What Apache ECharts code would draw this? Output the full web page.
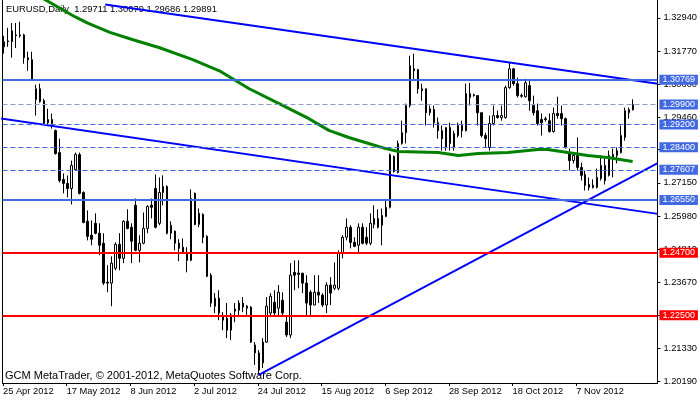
<!DOCTYPE html>
<html><head><meta charset="utf-8">
<script src="https://cdn.jsdelivr.net/npm/echarts@6/dist/echarts.min.js"></script>
<style>html,body{margin:0;padding:0;background:#fff}#c{width:700px;height:402px}</style>
</head><body><div id="c"></div>
<script>
const titleText = 'EURUSD,Daily  1.29711 1.30079 1.29686 1.29891';
const footerText = 'GCM MetaTrader, \u00a9 2001-2012, MetaQuotes Software Corp.';

const opens = [1.3192,1.3213,1.3210,1.3231,1.3234,1.3234,1.3154,1.3147,1.3007,1.3045,
1.3003,1.2926,1.2937,1.2898,1.2821,1.2727,1.2713,1.2695,1.2762,1.2814,
1.2681,1.2580,1.2531,1.2573,1.2538,1.2503,1.2366,1.2363,1.2415,1.2499,
1.2450,1.2580,1.2559,1.2636,1.2478,1.2503,1.2555,1.2636,1.2695,1.2573,
1.2681,1.2702,1.2538,1.2545,1.2503,1.2489,1.2471,1.2443,1.2678,1.2569,
1.2604,1.2527,1.2391,1.2282,1.2310,1.2244,1.2240,1.2198,1.2272,1.2268,
1.2279,1.2282,1.2279,1.2146,1.2118,1.2083,1.2156,1.2258,1.2296,1.2275,
1.2303,1.2226,1.2181,1.2401,1.2398,1.2398,1.2363,1.2331,1.2286,1.2331,
1.2321,1.2286,1.2356,1.2345,1.2345,1.2468,1.2524,1.2559,1.2506,1.2496,
1.2559,1.2524,1.2503,1.2569,1.2590,1.2566,1.2597,1.2629,1.2807,1.2751,
1.2853,1.2891,1.2986,1.3115,1.3112,1.3045,1.3045,1.2961,1.2972,1.2926,
1.2898,1.2839,1.2909,1.2839,1.2881,1.2916,1.2898,1.3014,1.3024,1.3021,
1.2961,1.2881,1.2839,1.2923,1.2951,1.2944,1.2944,1.3049,1.3115,1.3063,
1.3021,1.3017,1.3056,1.2986,1.2968,1.2937,1.2940,1.2933,1.2895,1.2958,
1.2958,1.2940,1.2818,1.2793,1.2811,1.2769,1.2744,1.2709,1.2706,1.2699,
1.2730,1.2776,1.2741,1.2814,1.2811,1.2821,1.2874,1.2961,1.29711];

const closes = [1.3210,1.3210,1.3248,1.3234,1.3231,1.3154,1.3147,1.3077,1.3045,1.3000,
1.2923,1.2937,1.2923,1.2818,1.2723,1.2713,1.2695,1.2776,1.2814,1.2678,
1.2576,1.2527,1.2517,1.2538,1.2496,1.2363,1.2363,1.2433,1.2499,1.2450,
1.2580,1.2555,1.2510,1.2478,1.2503,1.2555,1.2632,1.2629,1.2559,1.2681,
1.2702,1.2538,1.2566,1.2503,1.2485,1.2471,1.2443,1.2660,1.2569,1.2608,
1.2524,1.2387,1.2293,1.2310,1.2258,1.2233,1.2198,1.2251,1.2265,1.2293,
1.2293,1.2275,1.2156,1.2118,1.2058,1.2156,1.2282,1.2317,1.2258,1.2331,
1.2258,1.2181,1.2391,1.2391,1.2394,1.2363,1.2293,1.2286,1.2331,1.2321,
1.2286,1.2356,1.2328,1.2356,1.2468,1.2524,1.2559,1.2506,1.2492,1.2559,
1.2503,1.2503,1.2573,1.2590,1.2559,1.2601,1.2629,1.2814,1.2755,1.2853,
1.2891,1.2986,1.3126,1.3108,1.3045,1.3038,1.2961,1.2975,1.2926,1.2898,
1.2870,1.2909,1.2853,1.2888,1.2916,1.2898,1.3028,1.3028,1.3021,1.2961,
1.2881,1.2870,1.2923,1.2951,1.2944,1.2951,1.3049,1.3115,1.3063,1.3021,
1.3019,1.3066,1.3003,1.2961,1.2923,1.2926,1.2937,1.2895,1.2958,1.2951,
1.2940,1.2839,1.2793,1.2811,1.2769,1.2741,1.2706,1.2699,1.2699,1.2734,
1.2776,1.2723,1.2811,1.2804,1.2828,1.2881,1.2968,1.2972,1.29891];

const highs = [1.3231,1.3259,1.3276,1.3276,1.3280,1.3238,1.3175,1.3175,1.3059,1.3063,
1.3010,1.2975,1.2958,1.2902,1.2870,1.2748,1.2741,1.2793,1.2821,1.2821,
1.2685,1.2618,1.2583,1.2608,1.2573,1.2538,1.2426,1.2457,1.2506,1.2538,
1.2583,1.2622,1.2573,1.2660,1.2531,1.2611,1.2636,1.2660,1.2744,1.2734,
1.2741,1.2706,1.2580,1.2548,1.2517,1.2520,1.2489,1.2692,1.2681,1.2625,
1.2608,1.2531,1.2398,1.2328,1.2338,1.2261,1.2293,1.2258,1.2293,1.2303,
1.2314,1.2286,1.2282,1.2156,1.2128,1.2170,1.2314,1.2328,1.2338,1.2356,
1.2331,1.2251,1.2433,1.2443,1.2443,1.2398,1.2391,1.2338,1.2391,1.2391,
1.2328,1.2366,1.2384,1.2436,1.2478,1.2531,1.2590,1.2566,1.2524,1.2573,
1.2573,1.2559,1.2608,1.2636,1.2622,1.2625,1.2653,1.2818,1.2811,1.2863,
1.2933,1.2993,1.3161,1.3168,1.3115,1.3063,1.3045,1.2986,1.2986,1.2944,
1.2916,1.2909,1.2926,1.2898,1.2926,1.2933,1.3063,1.3066,1.3028,1.3021,
1.2961,1.2891,1.2951,1.2986,1.2968,1.2986,1.3056,1.3136,1.3118,1.3084,
1.3028,1.3080,1.3073,1.3021,1.2993,1.2958,1.2947,1.2958,1.2979,1.3017,
1.2986,1.2944,1.2835,1.2818,1.2874,1.2786,1.2758,1.2734,1.2727,1.2765,
1.2811,1.2800,1.2828,1.2835,1.2839,1.2916,1.2979,1.2979,1.30079];

const lows = [1.3168,1.3192,1.3154,1.3188,1.3224,1.3133,1.3108,1.3073,1.2951,1.2996,
1.2919,1.2916,1.2905,1.2814,1.2716,1.2678,1.2664,1.2639,1.2758,1.2674,
1.2573,1.2513,1.2496,1.2534,1.2461,1.2356,1.2331,1.2282,1.2408,1.2408,
1.2433,1.2552,1.2433,1.2475,1.2436,1.2499,1.2538,1.2590,1.2555,1.2566,
1.2636,1.2534,1.2517,1.2478,1.2440,1.2468,1.2401,1.2440,1.2566,1.2559,
1.2503,1.2384,1.2279,1.2258,1.2233,1.2198,1.2170,1.2163,1.2226,1.2244,
1.2261,1.2244,1.2153,1.2076,1.2041,1.2065,1.2153,1.2251,1.2251,1.2251,
1.2247,1.2174,1.2170,1.2338,1.2345,1.2328,1.2244,1.2244,1.2286,1.2293,
1.2279,1.2258,1.2286,1.2338,1.2338,1.2450,1.2513,1.2485,1.2489,1.2468,
1.2499,1.2496,1.2496,1.2555,1.2555,1.2496,1.2594,1.2625,1.2751,1.2748,
1.2849,1.2853,1.2979,1.3073,1.3028,1.3003,1.2916,1.2951,1.2909,1.2870,
1.2828,1.2828,1.2828,1.2828,1.2874,1.2874,1.2895,1.2986,1.3017,1.2916,
1.2874,1.2839,1.2828,1.2916,1.2940,1.2933,1.2940,1.3045,1.3056,1.3014,
1.3014,1.3014,1.2968,1.2951,1.2916,1.2881,1.2930,1.2891,1.2891,1.2940,
1.2916,1.2835,1.2758,1.2783,1.2758,1.2723,1.2688,1.2688,1.2695,1.2695,
1.2723,1.2709,1.2737,1.2734,1.2783,1.2818,1.2863,1.2940,1.29686];

// moving average, read at points along the green line: [bar index, price]
const maPoints = [[4.1,1.3409],[10.9,1.3353],[17.9,1.3297],[20.9,1.3276],[26.6,1.3243],[32.4,1.3217],
[39.1,1.3189],[47.4,1.3147],[54.1,1.3108],[61.6,1.3045],[69.1,1.2993],[76.6,1.2940],[81.6,1.2899],
[86.6,1.2874],[91.6,1.2853],[95.9,1.2835],[99.1,1.2825],[109.1,1.2821],[114.1,1.2811],[119.1,1.2818],
[126.6,1.2821],[134.1,1.2832],[136.6,1.2832],[141.6,1.2821],[146.6,1.2811],[151.6,1.2804],[157.9,1.2790]];

// trend lines: [[bar index, price], [bar index, price]]
const upperTrend = [[25.4,1.3341],[164.2,1.3063]];
const lowerTrend = [[-1,1.2941],[164.2,1.2606]];
const risingTrend = [[64,1.2041],[164.2,1.2784]];

const blueLevels = [1.30769, 1.26550];
const dashedLevels = [1.29200, 1.28400, 1.27607];
const bidLevel = 1.29900;
const redLevels = [1.24700, 1.22500];

const xTickLabels = ['25 Apr 2012','17 May 2012','8 Jun 2012','2 Jul 2012','24 Jul 2012','15 Aug 2012','6 Sep 2012','28 Sep 2012','18 Oct 2012','7 Nov 2012'];
const xTickBars = [0,16,32,48,64,80,96,112,128,144];
const yTickLabels = [1.32940,1.31770,1.30600,1.29460,1.28320,1.27150,1.25980,1.24810,1.23670,1.22500,1.21330,1.20190];

const FONT = 'Liberation Sans';
const candles = opens.map((o, i) => [i, o, closes[i], lows[i], highs[i]]);
const xTickVals = xTickBars.map(b => b - 0.25);

function lvlLabel(bg) {
  return {show: true, position: 'end', distance: 2, formatter: p => Number(p.value).toFixed(5),
    color: '#fff', backgroundColor: bg, padding: [1, 3, 0, 3], fontSize: 9, fontFamily: FONT};
}
const markData = [];
blueLevels.forEach(v => markData.push({yAxis: v, lineStyle: {color: '#4169e1', width: 2, type: 'solid'}, label: lvlLabel('#4169e1')}));
dashedLevels.forEach(v => markData.push({yAxis: v, lineStyle: {color: '#4169e1', width: 1, type: [5, 3]}, label: lvlLabel('#4169e1')}));
markData.push({yAxis: bidLevel, lineStyle: {color: '#8e9ccf', width: 1, type: [5, 3]}, label: lvlLabel('#4169e1')});
redLevels.forEach(v => markData.push({yAxis: v, lineStyle: {color: '#ff0000', width: 2, type: 'solid'}, label: lvlLabel('#ff0000')}));

const chart = echarts.init(document.getElementById('c'), null, {renderer: 'canvas'});
chart.setOption({
  animation: false,
  backgroundColor: '#fff',
  textStyle: {fontFamily: FONT},
  title: [
    {text: titleText, left: 6, top: 5, z: 0, padding: 0, textStyle: {fontSize: 9.4, fontWeight: 'normal', color: '#000', fontFamily: FONT}},
    {text: footerText, left: 5, top: 370, z: 0, padding: 0, textStyle: {fontSize: 11, fontWeight: 'normal', color: '#000', fontFamily: FONT}}
  ],
  grid: {left: 2, right: 40, top: -1, bottom: 19, containLabel: false},
  xAxis: {
    type: 'value', min: -0.375, max: 164.125,
    axisLine: {show: true, onZero: false, lineStyle: {color: '#000', width: 1}},
    axisTick: {show: true, length: 3, customValues: xTickVals, lineStyle: {color: '#000'}},
    axisLabel: {show: true, customValues: xTickVals, margin: 4, align: 'left', color: '#000', fontSize: 9.3, fontFamily: FONT,
      formatter: v => xTickLabels[Math.round((v + 0.25) / 16)] || ''},
    splitLine: {show: false}
  },
  yAxis: [
    {type: 'value', position: 'right', min: 1.20125, max: 1.33565, scale: true,
      axisLine: {show: true, onZero: false, lineStyle: {color: '#000', width: 1}},
      axisTick: {show: true, length: 3, customValues: yTickLabels, lineStyle: {color: '#000'}},
      axisLabel: {show: true, customValues: yTickLabels, margin: 6, color: '#000', fontSize: 9.3, fontFamily: FONT,
        formatter: v => Number(v).toFixed(5)},
      splitLine: {show: false}},
    {type: 'value', position: 'left', min: 1.20125, max: 1.33565, scale: true,
      axisLine: {show: true, onZero: false, lineStyle: {color: '#000', width: 1}},
      axisTick: {show: false}, axisLabel: {show: false}, splitLine: {show: false}}
  ],
  series: [
    {type: 'candlestick', data: candles, barWidth: 2, z: 2,
      itemStyle: {color: '#fff', color0: '#000', borderColor: '#000', borderColor0: '#000', borderWidth: 1}},
    {type: 'line', data: maPoints, symbol: 'none', z: 3, clip: true,
      lineStyle: {color: '#008000', width: 3}},
    {type: 'line', data: upperTrend, symbol: 'none', z: 4, clip: true, lineStyle: {color: '#0000ff', width: 2},
      markLine: {silent: true, precision: 5, symbol: ['none', 'none'], data: markData, animation: false}},
    {type: 'line', data: lowerTrend, symbol: 'none', z: 4, clip: true, lineStyle: {color: '#0000ff', width: 2}},
    {type: 'line', data: risingTrend, symbol: 'none', z: 4, clip: true, lineStyle: {color: '#0000ff', width: 2}}
  ]
});
</script></body></html>
